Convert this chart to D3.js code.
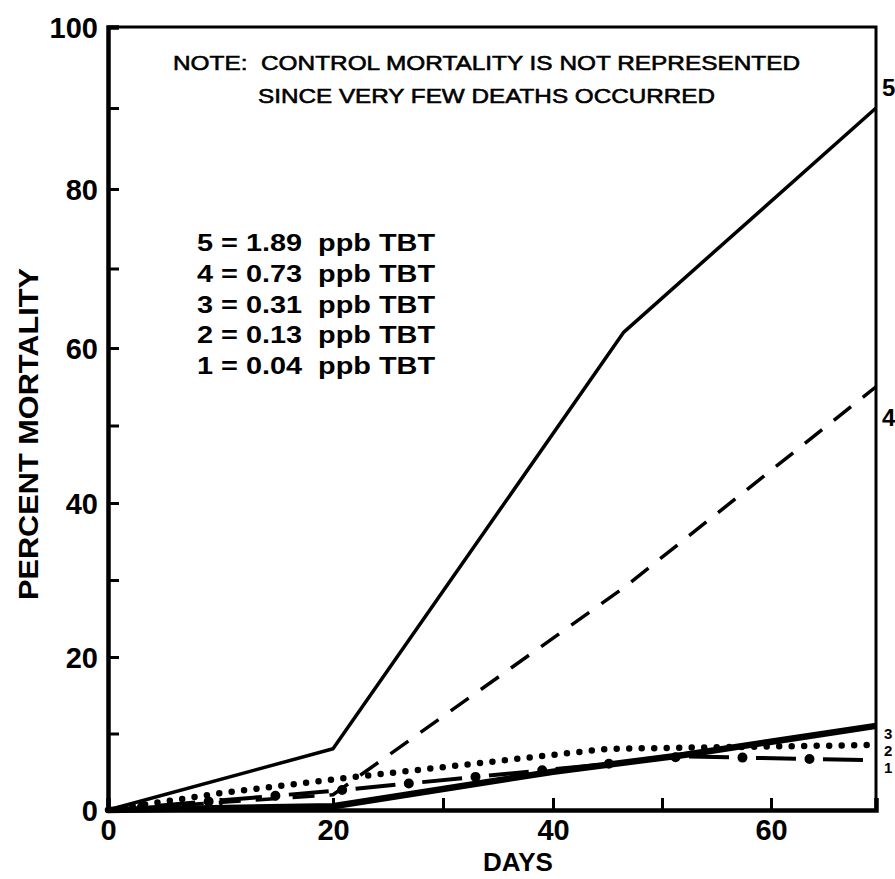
<!DOCTYPE html>
<html>
<head>
<meta charset="utf-8">
<script src="https://cdn.jsdelivr.net/npm/d3@7"></script>
<style>
  body { margin: 0; background: #fff; }
  svg { display: block; }
  text { font-family: "Liberation Sans", Arial, sans-serif; font-weight: bold; fill: #000; }
</style>
</head>
<body>
<div id="chart"></div>
<script>
// series values (days, percent mortality)
const s5Days = [0, 20, 46.5, 70];
const s5Vals = [0, 8, 62, 90];
const s4Days = [0, 20, 46.5, 70];
const s4Vals = [0, 2, 29, 55];
const s3Days = [0, 10, 20, 45, 70];
const s3Vals = [0, 2.2, 4, 8, 8.5];
const s2Days = [0, 20, 52, 70];
const s2Vals = [0, 2.5, 7, 6.5];
const s1Days = [0, 20, 40, 52, 70];
const s1Vals = [0, 0.5, 5, 7.2, 11];

const legendIds = ["5", "4", "3", "2", "1"];
const legendConc = ["1.89", "0.73", "0.31", "0.13", "0.04"];
const noteLines = ["NOTE:  CONTROL MORTALITY IS NOT REPRESENTED", "SINCE VERY FEW DEATHS OCCURRED"];
const xTicks = [10, 20, 30, 40, 50, 60];
const yTicks = [0, 10, 20, 30, 40, 50, 60, 70, 80, 90, 100];

const width = 895, height = 879;

const svg = d3.select("#chart").append("svg")
    .attr("width", width)
    .attr("height", height);

// scan is slightly stretched, so the scales follow the printed tick positions
const x = d3.scaleLinear()
    .domain([0, 20, 40, 60, 70])
    .range([108, 333, 553, 771, 876]);
const y = d3.scaleLinear()
    .domain([0, 20, 40, 60, 80, 100])
    .range([810, 657, 503, 348, 189, 27]);

// frame (top and right)
svg.append("path")
    .attr("d", `M${x(0)},${y(100)} H${x(70)} V${y(0)}`)
    .attr("fill", "none")
    .attr("stroke", "#000")
    .attr("stroke-width", 3);

// left axis, ticks pointing inward
const yAxis = svg.append("g")
    .attr("transform", `translate(${x(0)},0)`)
    .call(d3.axisLeft(y).tickValues(yTicks).tickSize(-11).tickPadding(10)
        .tickFormat(d => d % 20 === 0 ? d : ""));
yAxis.select(".domain").attr("stroke-width", 4.5);
yAxis.selectAll(".tick line").attr("stroke-width", 3);
yAxis.selectAll("text").style("font-size", "29px").attr("dy", "0.36em");

// bottom axis
const xAxis = svg.append("g")
    .attr("transform", `translate(0,${y(0)})`)
    .call(d3.axisBottom(x).tickValues([0].concat(xTicks)).tickSize(-12).tickPadding(9)
        .tickFormat(d => d % 20 === 0 ? d : ""));
xAxis.select(".domain").attr("stroke-width", 4.5);
xAxis.selectAll(".tick line").attr("stroke-width", 3);
xAxis.selectAll("text").style("font-size", "29px");

const line = d3.line().x(d => x(d[0])).y(d => y(d[1]));
const pts = (ds, vs) => ds.map((d, i) => [d, vs[i]]);

// 1 : heavy solid
svg.append("path").datum(pts(s1Days, s1Vals))
    .attr("d", line).attr("fill", "none").attr("stroke", "#000")
    .attr("stroke-width", 6.5).attr("stroke-linejoin", "round");

// 2 : long dash + big dot
svg.append("path").datum(pts(s2Days, s2Vals))
    .attr("d", line).attr("fill", "none").attr("stroke", "#000")
    .attr("stroke-width", 4).attr("stroke-dasharray", "40,27").attr("stroke-dashoffset", 19.5);
svg.append("path").datum(pts(s2Days, s2Vals))
    .attr("d", line).attr("fill", "none").attr("stroke", "#000")
    .attr("stroke-width", 10).attr("stroke-linecap", "round")
    .attr("stroke-dasharray", "0,67").attr("stroke-dashoffset", 33);

// 3 : dotted
svg.append("path").datum(pts(s3Days, s3Vals))
    .attr("d", line).attr("fill", "none").attr("stroke", "#000")
    .attr("stroke-width", 6.5).attr("stroke-linecap", "round")
    .attr("stroke-dasharray", "0,12.5");

// 4 : dashed
svg.append("path").datum(pts(s4Days, s4Vals))
    .attr("d", line).attr("fill", "none").attr("stroke", "#000")
    .attr("stroke-width", 3.5).attr("stroke-dasharray", "22,15");

// 5 : thin solid
svg.append("path").datum(pts(s5Days, s5Vals))
    .attr("d", line).attr("fill", "none").attr("stroke", "#000")
    .attr("stroke-width", 3.5).attr("stroke-linejoin", "round");

// line end labels at right edge
const endLabels = [
  { id: "5", v: 92.5, size: 24 },
  { id: "4", v: 51, size: 24 },
  { id: "3", v: 10, size: 15 },
  { id: "2", v: 7.8, size: 15 },
  { id: "1", v: 5.5, size: 15 }
];
svg.append("g").selectAll("text")
    .data(endLabels)
    .join("text")
    .attr("x", d => d.size > 20 ? x(70) + 6 : x(70) + 8)
    .attr("y", d => y(d.v))
    .attr("dy", "0.36em")
    .style("font-size", d => d.size + "px")
    .text(d => d.id);

// note
svg.append("g").selectAll("text")
    .data(noteLines)
    .join("text")
    .attr("x", (d, i) => i === 0 ? 173 : 258)
    .attr("y", (d, i) => 70 + i * 33)
    .attr("textLength", (d, i) => i === 0 ? 627 : 457)
    .attr("lengthAdjust", "spacingAndGlyphs")
    .style("white-space", "pre")
    .style("font-size", "21px")
    .style("font-weight", "normal")
    .style("stroke", "#000").style("stroke-width", 0.6)
    .text(d => d);

// legend
svg.append("g").selectAll("text")
    .data(legendIds)
    .join("text")
    .attr("x", 197)
    .attr("y", (d, i) => 251 + i * 30.8)
    .attr("textLength", 238)
    .attr("lengthAdjust", "spacingAndGlyphs")
    .style("white-space", "pre")
    .style("font-size", "24px")
    .text((d, i) => `${d} = ${legendConc[i]}  ppb TBT`);

// axis titles
svg.append("text")
    .attr("x", 518).attr("y", 871)
    .attr("text-anchor", "middle")
    .style("font-size", "26px")
    .text("DAYS");

svg.append("text")
    .attr("transform", "translate(38,434) rotate(-90)")
    .attr("text-anchor", "middle")
    .attr("textLength", 332)
    .attr("lengthAdjust", "spacingAndGlyphs")
    .style("font-size", "27px")
    .text("PERCENT MORTALITY");
</script>
</body>
</html>
